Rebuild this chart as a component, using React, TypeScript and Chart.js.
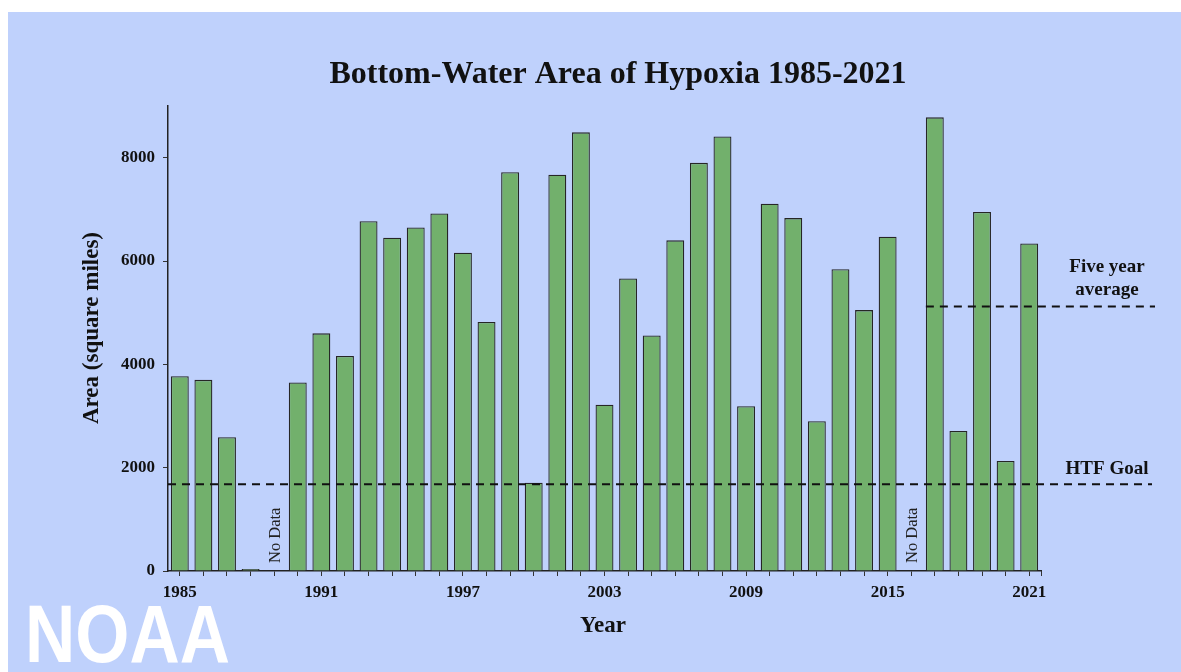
import { useEffect, useRef } from "react";
import { Chart, registerables } from "chart.js";

Chart.register(...registerables);

// ---- data ----
const years = [
  "1985", "1986", "1987", "1988", "1989", "1990", "1991", "1992", "1993", "1994",
  "1995", "1996", "1997", "1998", "1999", "2000", "2001", "2002", "2003", "2004",
  "2005", "2006", "2007", "2008", "2009", "2010", "2011", "2012", "2013", "2014",
  "2015", "2016", "2017", "2018", "2019", "2020", "2021",
];
const areas: (number | null)[] = [
  3770, 3700, 2590, 40, null, 3650, 4600, 4160, 6770, 6450,
  6650, 6920, 6160, 4820, 7720, 1710, 7670, 8490, 3220, 5660,
  4560, 6400, 7900, 8410, 3190, 7110, 6830, 2900, 5840, 5050,
  6470, null, 8780, 2710, 6950, 2130, 6340,
];
const xTickLabels = ["1985", "1991", "1997", "2003", "2009", "2015", "2021"];
const yTickValues = [0, 2000, 4000, 6000, 8000];
const yMax = 9000;
const noDataYears = ["1989", "2016"];
const htfGoal = 1680;
const fiveYearAverage = 5120;
const fiveYearStart = "2017";

const chartTitle = "Bottom-Water Area of Hypoxia 1985-2021";
const yTitle = "Area (square miles)";
const xTitle = "Year";

const SERIF = "'Liberation Serif', 'Times New Roman', serif";
const INK = "#111111";

const overlayPlugin = {
  id: "overlay",
  afterDraw(chart: any) {
    const { ctx, chartArea, scales } = chart;
    const x = scales.x;
    const y = scales.y;
    ctx.save();

    // title
    ctx.fillStyle = INK;
    ctx.font = `bold 32px ${SERIF}`;
    ctx.textAlign = "center";
    ctx.textBaseline = "middle";
    ctx.fillText(chartTitle, 610, 63);

    // axis titles
    ctx.font = `bold 23px ${SERIF}`;
    ctx.fillText(xTitle, 595, 614);
    ctx.save();
    ctx.translate(84, 316);
    ctx.rotate(-Math.PI / 2);
    ctx.fillText(yTitle, 0, 0);
    ctx.restore();

    // axis end tick
    ctx.strokeStyle = "#333";
    ctx.lineWidth = 1;
    ctx.beginPath();
    ctx.moveTo(chartArea.right + 0.5, chartArea.bottom);
    ctx.lineTo(chartArea.right + 0.5, chartArea.bottom + 5);
    ctx.stroke();

    // dashed reference lines
    ctx.strokeStyle = "#111";
    ctx.lineWidth = 2;
    ctx.setLineDash([8, 6]);
    const yHtf = y.getPixelForValue(htfGoal);
    ctx.beginPath();
    ctx.moveTo(chartArea.left, yHtf);
    ctx.lineTo(chartArea.right + 111, yHtf);
    ctx.stroke();

    const meta = chart.getDatasetMeta(0);
    const idx = years.indexOf(fiveYearStart);
    const el = meta.data[idx];
    const x5 = el.x - el.width / 2;
    const y5 = y.getPixelForValue(fiveYearAverage);
    ctx.beginPath();
    ctx.moveTo(x5, y5);
    ctx.lineTo(chartArea.right + 114, y5);
    ctx.stroke();
    ctx.setLineDash([]);

    // annotation labels
    const lx = chartArea.right + 66;
    ctx.font = `bold 19px ${SERIF}`;
    ctx.fillStyle = INK;
    ctx.fillText("Five year", lx, y5 - 39);
    ctx.fillText("average", lx, y5 - 16);
    ctx.fillText("HTF Goal", lx, yHtf - 15);

    // No Data labels
    ctx.font = `16.5px ${SERIF}`;
    ctx.fillStyle = "#222";
    ctx.textAlign = "left";
    for (const yr of noDataYears) {
      const px = x.getPixelForValue(years.indexOf(yr));
      ctx.save();
      ctx.translate(px, chartArea.bottom - 8);
      ctx.rotate(-Math.PI / 2);
      ctx.fillText("No Data", 0, 1);
      ctx.restore();
    }

    // NOAA watermark
    ctx.fillStyle = "#ffffff";
    ctx.font = `bold 82px 'Liberation Sans', Arial, sans-serif`;
    ctx.textAlign = "left";
    ctx.textBaseline = "alphabetic";
    const w = ctx.measureText("NOAA").width;
    ctx.save();
    ctx.translate(17, 650);
    ctx.scale(205 / w, 1);
    ctx.fillText("NOAA", 0, 0);
    ctx.restore();

    ctx.restore();
  },
};

export default function App() {
  const ref = useRef<HTMLCanvasElement | null>(null);

  useEffect(() => {
    document.body.style.margin = "0";
    if (!ref.current) return;
    const chart = new Chart(ref.current, {
      type: "bar",
      data: {
        labels: years,
        datasets: [
          {
            label: "Area",
            data: areas,
            backgroundColor: "#72b06c",
            borderColor: "#262626",
            borderWidth: 1.3,
            barPercentage: 0.76,
            categoryPercentage: 1,
          },
        ],
      },
      options: {
        animation: false,
        responsive: true,
        maintainAspectRatio: false,
        layout: { padding: { left: 0, right: 140, top: 94, bottom: 0 } },
        plugins: {
          legend: { display: false },
          title: { display: false },
          tooltip: { enabled: false },
        },
        scales: {
          x: {
            offset: true,
            grid: {
              display: true,
              offset: false,
              drawOnChartArea: false,
              drawTicks: true,
              tickLength: 5,
              color: "#333",
            },
            border: { display: true, color: "#222", width: 1.5 },
            ticks: {
              autoSkip: false,
              maxRotation: 0,
              padding: 6,
              color: INK,
              font: { family: SERIF, weight: "bold", size: 17 },
              callback: (_v: any, i: number) =>
                xTickLabels.includes(years[i]) ? years[i] : "",
            },
            afterFit: (s: any) => {
              s.height = 101;
            },
          },
          y: {
            min: 0,
            max: yMax,
            grid: {
              display: true,
              drawOnChartArea: false,
              drawTicks: true,
              tickLength: 5,
              color: "#333",
            },
            border: { display: true, color: "#222", width: 1.5 },
            ticks: {
              padding: 8,
              color: INK,
              font: { family: SERIF, weight: "bold", size: 17 },
              callback: (v: any) => String(v),
            },
            afterBuildTicks: (s: any) => {
              s.ticks = yTickValues.map((v) => ({ value: v }));
            },
            afterFit: (s: any) => {
              s.width = 160;
            },
          },
        },
      },
      plugins: [overlayPlugin],
    });
    return () => chart.destroy();
  }, []);

  return (
    <div
      style={{
        position: "relative",
        width: "1173px",
        height: "660px",
        margin: "12px 0 0 8px",
        background: "#bfd1fc",
      }}
    >
      <canvas ref={ref} />
    </div>
  );
}
